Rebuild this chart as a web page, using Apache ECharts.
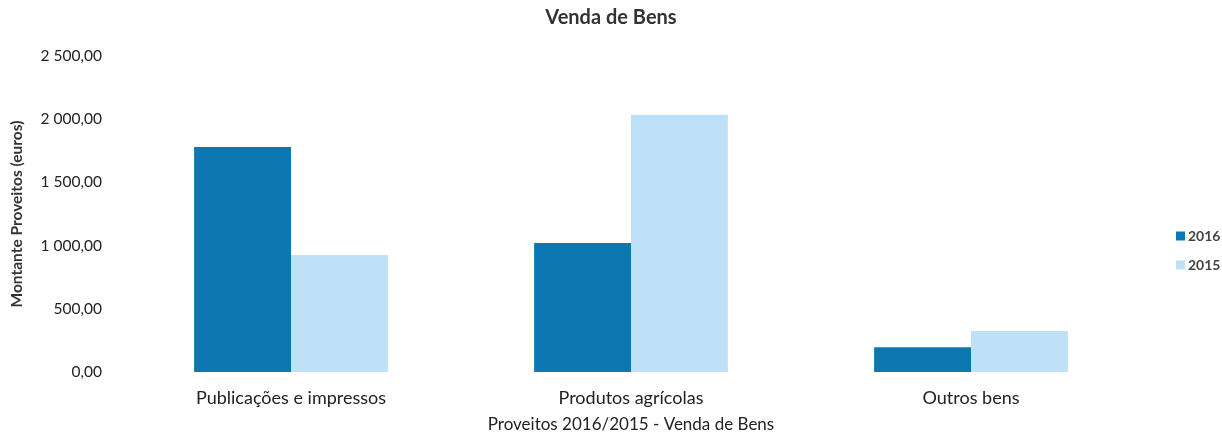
<!DOCTYPE html>
<html>
<head>
<meta charset="utf-8">
<script src="https://cdn.jsdelivr.net/npm/echarts@6/dist/echarts.min.js"></script>
<style>
  html, body { margin: 0; padding: 0; background: #fff; }
  #chart { width: 1222px; height: 435px; }
</style>
</head>
<body>
<div id="chart"></div>
<script>
// Receitas de venda de bens por categoria, 2016 vs 2015 (euros)
const categories = ['Publicações e impressos', 'Produtos agrícolas', 'Outros bens'];
const values2016 = [1780, 1020, 195];
const values2015 = [925, 2035, 325];
const yTicks = [0, 500, 1000, 1500, 2000, 2500];

function fmtPt(v) {
  const parts = v.toFixed(2).split('.');
  const int = parts[0].replace(/\B(?=(\d{3})+(?!\d))/g, ' ');
  return int + ',' + parts[1];
}

const FONT = 'Lato, "Open Sans", sans-serif';
const chart = echarts.init(document.getElementById('chart'));
chart.setOption({
  animation: false,
  textStyle: { fontFamily: FONT },
  title: {
    text: 'Venda de Bens',
    left: 'center',
    top: 3,
    textStyle: { fontSize: 20, fontWeight: 'bold', color: '#333', fontFamily: FONT }
  },
  legend: {
    orient: 'vertical',
    left: 1176,
    top: 229,
    padding: 0,
    itemWidth: 9,
    itemHeight: 9,
    itemGap: 15,
    icon: 'rect',
    textStyle: { fontSize: 14, fontWeight: 'bold', color: '#444', fontFamily: FONT, padding: [0, 0, 0, -2] },
    data: ['2016', '2015']
  },
  grid: { left: 121, right: 81, top: 56, bottom: 63, outerBoundsMode: 'none' },
  xAxis: {
    type: 'category',
    data: categories,
    axisLine: { show: false },
    axisTick: { show: false },
    axisLabel: { fontSize: 18, color: '#222', margin: 17, fontFamily: FONT },
    name: 'Proveitos 2016/2015 - Venda de Bens',
    nameLocation: 'middle',
    nameGap: 44,
    nameTextStyle: { fontSize: 17, color: '#222', fontFamily: FONT }
  },
  yAxis: {
    type: 'value',
    min: yTicks[0],
    max: yTicks[yTicks.length - 1],
    interval: 500,
    splitLine: { show: false },
    axisLine: { show: false },
    axisTick: { show: false },
    axisLabel: { fontSize: 15.5, color: '#222', margin: 19, formatter: fmtPt, fontFamily: FONT },
    name: 'Montante Proveitos (euros)',
    nameLocation: 'middle',
    nameGap: 96,
    nameTextStyle: { fontSize: 15.5, fontWeight: 'bold', color: '#333', fontFamily: FONT }
  },
  series: [
    {
      name: '2016',
      type: 'bar',
      data: values2016,
      barGap: '0%',
      barCategoryGap: '43%',
      itemStyle: { color: '#0B78B3' }
    },
    {
      name: '2015',
      type: 'bar',
      data: values2015,
      itemStyle: { color: '#BEE1F8' }
    }
  ]
});
</script>
</body>
</html>
